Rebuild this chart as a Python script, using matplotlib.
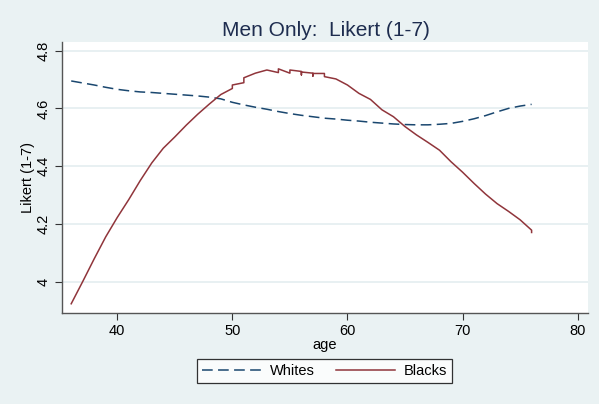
import matplotlib.pyplot as plt
import numpy as np

plt.rcParams["font.family"] = ["Liberation Sans", "DejaVu Sans"]

# Whites: smoothed Likert score by age
ages_whites = list(range(36, 77))
likert_whites = [
    4.695, 4.688, 4.681, 4.673, 4.666, 4.661, 4.657, 4.655, 4.652, 4.649,
    4.646, 4.643, 4.639, 4.633, 4.621, 4.612, 4.604, 4.597, 4.589, 4.582,
    4.576, 4.571, 4.566, 4.563, 4.559, 4.556, 4.552, 4.549, 4.546, 4.544,
    4.543, 4.543, 4.545, 4.548, 4.555, 4.564, 4.575, 4.588, 4.600, 4.608,
    4.614,
]

# Blacks: repeated ages give the small vertical steps of the original
ages_blacks = [
    36, 37, 38, 39, 40, 41, 42, 43, 44, 45, 46, 47, 48, 49,
    50, 50, 51, 51, 52, 53, 54, 54, 55, 55, 56, 56, 56, 57, 57, 57,
    58, 58, 59, 60, 61, 62, 63, 64, 65, 66, 67, 68, 69, 70, 71, 72,
    73, 74, 75, 76, 76,
]
likert_blacks = [
    3.923, 4.000, 4.079, 4.155, 4.222, 4.284, 4.350, 4.411, 4.462, 4.501,
    4.542, 4.580, 4.615, 4.648,
    4.669, 4.681, 4.689, 4.706, 4.722, 4.733, 4.724, 4.737, 4.722, 4.733,
    4.728, 4.716, 4.726, 4.722, 4.712, 4.721,
    4.721, 4.710, 4.702, 4.681, 4.652, 4.631, 4.595, 4.571, 4.537, 4.508,
    4.482, 4.455, 4.415, 4.379, 4.340, 4.303,
    4.270, 4.243, 4.214, 4.178, 4.170,
]

x_ticks = [40, 50, 60, 70, 80]
y_ticks = [4.0, 4.2, 4.4, 4.6, 4.8]
y_tick_labels = ["4", "4.2", "4.4", "4.6", "4.8"]

bg = "#eaf2f3"
navy = "#1a476f"
maroon = "#90353b"

fig = plt.figure(figsize=(5.99, 4.04), dpi=100, facecolor=bg)
ax = fig.add_axes([62 / 599, 1 - 313 / 404, 526 / 599, 271 / 404])
ax.set_facecolor("white")

ax.plot(ages_whites, likert_whites, color=navy, linewidth=1.1,
        linestyle=(0, (7, 3.5)), label="Whites")
ax.plot(ages_blacks, likert_blacks, color=maroon, linewidth=1.1,
        label="Blacks")

ax.set_xlim(35.2, 80.9)
ax.set_ylim(3.891, 4.83)
ax.set_xticks(x_ticks)
ax.set_yticks(y_ticks)
ax.set_yticklabels(y_tick_labels, rotation=90, va="center")
ax.tick_params(labelsize=10.5, length=5, color="#333333", pad=3)
ax.grid(True, axis="y", color="#e4eef0", linewidth=1.2)
ax.set_axisbelow(True)

for side in ["top", "right"]:
    ax.spines[side].set_visible(False)
for side in ["left", "bottom"]:
    ax.spines[side].set_color("#555555")
    ax.spines[side].set_linewidth(1.0)

ax.set_xlabel("age", fontsize=10.5, labelpad=0)
ax.set_ylabel("Likert (1-7)", fontsize=10.5)
ax.yaxis.set_label_coords(-0.052, 0.5)

fig.text(326 / 599, 1 - 30 / 404, "Men Only:  Likert (1-7)",
         ha="center", va="center", fontsize=15, color="#1e2d4f")

leg = fig.legend(loc="center", bbox_to_anchor=(324.5 / 599, 1 - 371 / 404),
                 ncol=2, fontsize=10.5, frameon=True, fancybox=False,
                 handlelength=4.0, columnspacing=1.5, handletextpad=0.6,
                 borderpad=0.35, edgecolor="black")
leg.get_frame().set_linewidth(0.9)

fig.savefig("out.png", dpi=100, facecolor=bg)
